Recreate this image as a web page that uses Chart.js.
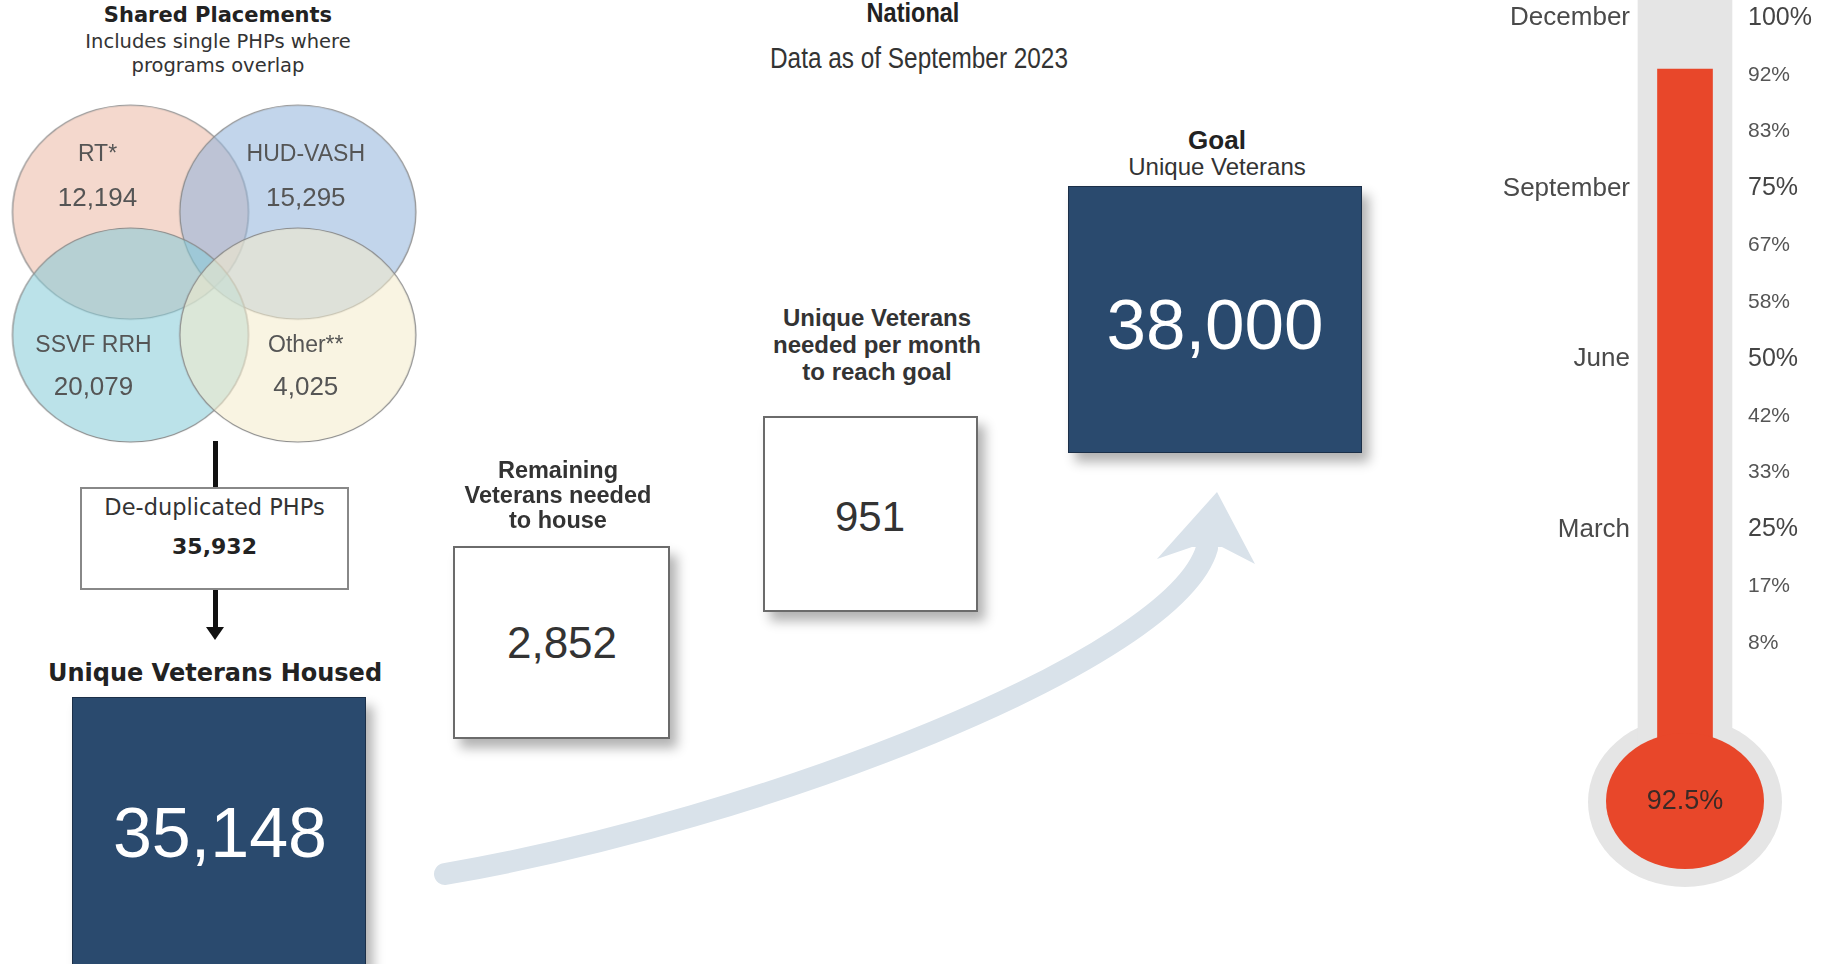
<!DOCTYPE html>
<html>
<head>
<meta charset="utf-8">
<title>National - Unique Veterans Housed</title>
<script src="https://cdn.jsdelivr.net/npm/chart.js@4.4.0/dist/chart.umd.min.js"></script>
<style>
body { margin: 0; width: 1822px; height: 964px; overflow: hidden; background: #fff; position: relative;
       font-family: "Liberation Sans", Arial, sans-serif; color: #333; }
.t { position: absolute; text-align: center; white-space: nowrap; }
.v { font-family: "DejaVu Sans", Verdana, sans-serif; }
.b { font-weight: bold; }
.box { position: absolute; box-sizing: border-box; }
.white { background: #fff; border: 2px solid #6b6b6b; box-shadow: 7px 9px 11px rgba(0,0,0,.3); }
.navy { background: #2a4a6e; border: 1px solid #1b2f48; box-shadow: 7px 9px 11px rgba(0,0,0,.3); }
.narrow { transform: scaleX(.84); transform-origin: center; }
canvas { position: absolute; }
</style>
</head>
<body>

<svg width="1822" height="964" style="position:absolute;left:0;top:0">
  <path d="M445 874 C760 820 1175 660 1207 548" stroke="#d9e2ea" stroke-width="22" fill="none" stroke-linecap="round"/>
  <polygon points="1217,492 1255,564 1222,547 1192,547 1157,559" fill="#d9e2ea"/>
</svg>

<div class="t v b" style="left:18px;width:400px;top:3px;font-size:21px;line-height:24px;color:#222">Shared Placements</div>
<div class="t v" style="left:18px;width:400px;top:30px;font-size:19.5px;line-height:24px;color:#333">Includes single PHPs where<br>programs overlap</div>

<canvas id="venn" width="440" height="370" style="left:0;top:90px"></canvas>

<div style="position:absolute;left:213px;top:441px;width:5px;height:46px;background:#111"></div>
<div class="box" style="left:80px;top:487px;width:269px;height:103px;border:2px solid #888;background:#fff"></div>
<div class="t v" style="left:80px;width:269px;top:494px;font-size:22.5px;line-height:26px;color:#333">De-duplicated PHPs</div>
<div class="t v b" id="dedup" style="left:80px;width:269px;top:534px;font-size:22px;line-height:26px;color:#222"></div>
<div style="position:absolute;left:213px;top:590px;width:5px;height:40px;background:#111"></div>
<div style="position:absolute;left:206px;top:627px;width:0;height:0;border-left:9.5px solid transparent;border-right:9.5px solid transparent;border-top:13px solid #111"></div>

<div class="t v b" style="left:15px;width:400px;top:659px;font-size:24px;line-height:28px;color:#222">Unique Veterans Housed</div>
<div class="box navy" style="left:72px;top:697px;width:294px;height:300px"></div>
<div class="t" id="housed" style="left:20px;width:400px;top:793px;font-size:70px;line-height:80px;color:#fff"></div>

<div class="t b" style="left:408px;width:300px;top:458px;font-size:23.5px;line-height:25px;color:#333">Remaining<br>Veterans needed<br>to house</div>
<div class="box white" style="left:453px;top:546px;width:217px;height:193px"></div>
<div class="t" id="remaining" style="left:462px;width:200px;top:618px;font-size:44px;line-height:50px;color:#333"></div>

<div class="t b" style="left:727px;width:300px;top:304px;font-size:24px;line-height:27px;color:#333">Unique Veterans<br>needed per month<br>to reach goal</div>
<div class="box white" style="left:763px;top:416px;width:215px;height:196px"></div>
<div class="t" id="perMonth" style="left:770px;width:200px;top:492px;font-size:42px;line-height:50px;color:#333"></div>

<div class="t b" style="left:1067px;width:300px;top:125px;font-size:26px;line-height:30px;color:#222">Goal</div>
<div class="t" style="left:1067px;width:300px;top:153px;font-size:24px;line-height:28px;color:#333">Unique Veterans</div>
<div class="box navy" style="left:1068px;top:186px;width:294px;height:267px"></div>
<div class="t" id="goal" style="left:1015px;width:400px;top:285px;font-size:71px;line-height:80px;color:#fff"></div>

<div class="t b narrow" style="left:713px;width:400px;top:-3px;font-size:28px;line-height:32px;color:#222">National</div>
<div class="t narrow" style="left:719px;width:400px;top:42px;font-size:29px;line-height:32px;color:#333">Data as of September 2023</div>

<canvas id="thermo" width="342" height="964" style="left:1480px;top:0"></canvas>

<script>
// program placements (overlapping)
var vennNames = ['RT*', 'HUD-VASH', 'SSVF RRH', 'Other**'];
var vennCounts = [12194, 15295, 20079, 4025];

// headline numbers
var dedupPhps = 35932;
var housed = 35148;
var remaining = 2852;
var perMonth = 951;
var goal = 38000;
var progress = 92.5;

// thermometer axes
var monthTicks = [25, 50, 75, 100];
var monthLabels = ['March', 'June', 'September', 'December'];
var pctTicks = [8.33, 16.67, 25, 33.33, 41.67, 50, 58.33, 66.67, 75, 83.33, 91.67, 100];
var pctLabels = ['8%', '17%', '25%', '33%', '42%', '50%', '58%', '67%', '75%', '83%', '92%', '100%'];

var vennColors = ['rgba(236,186,165,0.56)', 'rgba(146,180,220,0.56)', 'rgba(134,204,216,0.56)', 'rgba(244,236,204,0.56)'];
var FONT = '"Liberation Sans", Arial, sans-serif';

function fmt(n) { return n.toLocaleString('en-US'); }

document.getElementById('dedup').textContent = fmt(dedupPhps);
document.getElementById('housed').textContent = fmt(housed);
document.getElementById('remaining').textContent = fmt(remaining);
document.getElementById('perMonth').textContent = fmt(perMonth);
document.getElementById('goal').textContent = fmt(goal);

// ellipse used as point style for the venn circles
function ellipseImage(fill) {
	var c = document.createElement('canvas');
	c.width = 240;
	c.height = 218;
	var g = c.getContext('2d');
	g.beginPath();
	g.ellipse(120, 109, 118, 107, 0, 0, Math.PI * 2);
	g.fillStyle = fill;
	g.fill();
	g.lineWidth = 1.2;
	g.strokeStyle = '#888';
	g.stroke();
	return c;
}

var vennLabels = {
	id : 'vennLabels',
	afterDatasetsDraw : function(chart) {
		var ctx = chart.ctx;
		chart.getDatasetMeta(0).data.forEach(function(pt, i) {
			var top = i < 2;
			var dx = i % 2 === 0 ? (top ? -33 : -37) : 8;
			var dy = top ? -57 : 11;
			var gap = top ? 44 : 42;
			ctx.save();
			ctx.fillStyle = '#555';
			ctx.textAlign = 'center';
			ctx.textBaseline = 'middle';
			ctx.font = '23px ' + FONT;
			ctx.fillText(vennNames[i], pt.x + dx, pt.y + dy);
			ctx.font = '26px ' + FONT;
			ctx.fillText(fmt(vennCounts[i]), pt.x + dx, pt.y + dy + gap);
			ctx.restore();
		});
	}
};

new Chart(document.getElementById('venn'), {
	type : 'scatter',
	data : {
		datasets : [ {
			data : vennNames.map(function(n, i) {
				return { x : i % 2, y : i < 2 ? 1 : 0 };
			}),
			pointStyle : vennColors.map(ellipseImage),
			pointRadius : 5
		} ]
	},
	options : {
		responsive : false,
		animation : false,
		events : [],
		plugins : { legend : { display : false }, tooltip : { enabled : false } },
		scales : {
			x : { type : 'linear', display : false, min : -0.744, max : 1.814 },
			y : { type : 'linear', display : false, min : -0.968, max : 1.945 }
		}
	},
	plugins : [ vennLabels ]
});

// thermometer bulb drawn around the bars
var bulb = {
	id : 'bulb',
	beforeDatasetsDraw : function(chart) {
		var ctx = chart.ctx;
		var x = chart.getDatasetMeta(0).data[0].x;
		var y = chart.scales.y.getPixelForValue(0) + 102;
		ctx.save();
		ctx.fillStyle = '#e5e5e5';
		ctx.beginPath();
		ctx.ellipse(x, y, 97, 85, 0, 0, Math.PI * 2);
		ctx.fill();
		ctx.restore();
	},
	afterDatasetsDraw : function(chart) {
		var ctx = chart.ctx;
		var x = chart.getDatasetMeta(0).data[0].x;
		var y = chart.scales.y.getPixelForValue(0) + 101;
		ctx.save();
		ctx.fillStyle = '#e8472a';
		ctx.beginPath();
		ctx.ellipse(x, y, 79, 68, 0, 0, Math.PI * 2);
		ctx.fill();
		ctx.fillStyle = '#3b2a26';
		ctx.textAlign = 'center';
		ctx.textBaseline = 'middle';
		ctx.font = '27px ' + FONT;
		ctx.fillText(progress.toFixed(1) + '%', x, y + 1);
		ctx.restore();
	}
};

function tickFont(c) {
	var major = c.tick && c.tick.value % 25 === 0;
	return { size : major ? 25 : 21, family : FONT };
}

new Chart(document.getElementById('thermo'), {
	type : 'bar',
	data : {
		labels : [ '' ],
		datasets : [ {
			data : [ progress ],
			base : -12,
			backgroundColor : '#e8472a',
			barThickness : 55,
			grouped : false,
			clip : false,
			order : 1
		}, {
			data : [ 102.7 ],
			base : -12,
			backgroundColor : '#e5e5e5',
			barThickness : 94,
			grouped : false,
			clip : false,
			order : 2
		} ]
	},
	options : {
		responsive : false,
		animation : false,
		events : [],
		layout : { padding : { top : 18, bottom : 264 } },
		plugins : { legend : { display : false }, tooltip : { enabled : false } },
		scales : {
			x : { display : false },
			y : {
				position : 'left',
				min : 0,
				max : 100,
				grid : { display : false, drawTicks : false },
				border : { display : false },
				afterBuildTicks : function(axis) {
					axis.ticks = monthTicks.map(function(v) { return { value : v }; });
				},
				afterFit : function(s) {
					s.width = 158;
					s.paddingTop = 0;
					s.paddingBottom = 0;
				},
				ticks : {
					autoSkip : false,
					padding : 8,
					color : '#4a4a4a',
					font : { size : 26, family : FONT },
					callback : function(v, i) { return monthLabels[i]; }
				}
			},
			y2 : {
				position : 'right',
				min : 0,
				max : 100,
				grid : { display : false, drawTicks : false },
				border : { display : false },
				afterBuildTicks : function(axis) {
					axis.ticks = pctTicks.map(function(v) { return { value : v }; });
				},
				afterFit : function(s) {
					s.width = 90;
					s.paddingTop = 0;
					s.paddingBottom = 0;
				},
				ticks : {
					autoSkip : false,
					padding : 16,
					color : function(c) { return c.tick && c.tick.value % 25 === 0 ? '#444' : '#555'; },
					font : tickFont,
					callback : function(v, i) { return pctLabels[i]; }
				}
			}
		}
	},
	plugins : [ bulb ]
});
</script>
</body>
</html>
